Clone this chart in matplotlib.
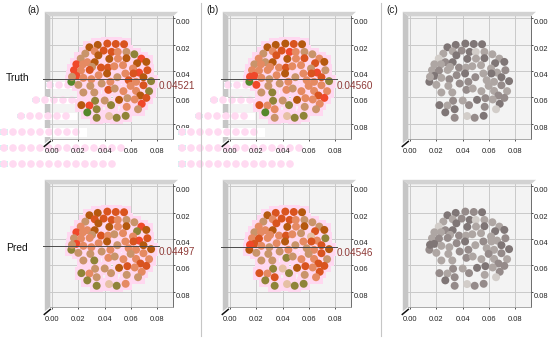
import matplotlib
matplotlib.use("Agg")
import matplotlib.pyplot as plt
from matplotlib.patches import Polygon, Rectangle
from matplotlib.transforms import Affine2D, ScaledTranslation

plt.rcParams['font.family'] = ['Liberation Sans', 'DejaVu Sans']

W, H = 550, 343
# Point positions in data units
xs = [0.0284,0.0347,0.0420,0.0484,0.0547,
      0.0324,0.0392,0.0453,0.0499,0.0565,0.0625,0.0253,0.0352,
      0.0218,0.0435,0.0501,0.0565,0.0678,0.0716,0.0646,0.0268,0.0324,
      0.0185,0.0235,0.0304,0.0372,0.0425,0.0473,0.0539,0.0615,0.0661,0.0724,
      0.0167,0.0220,0.0286,0.0185,0.0238,0.0354,0.0418,0.0496,0.0557,0.0618,0.0694,0.0147,0.0152,0.0299,
      0.0377,0.0443,0.0582,0.0638,0.0752,0.0200,0.0291,0.0597,0.0694,
      0.0238,0.0321,0.0428,0.0476,0.0542,0.0638,0.0737,0.0671,0.0716,
      0.0327,0.0400,0.0509,0.0572,0.0628,0.0681,
      0.0223,0.0284,0.0448,0.0567,0.0653,0.0339,0.0268,0.0339,0.0433,0.0491,0.0559]
ys = [0.0220,0.0202,0.0192,0.0195,0.0197,
      0.0250,0.0245,0.0255,0.0255,0.0255,0.0273,0.0268,0.0281,
      0.0306,0.0308,0.0306,0.0303,0.0306,0.0331,0.0341,0.0333,0.0333,
      0.0349,0.0349,0.0369,0.0374,0.0374,0.0364,0.0356,0.0381,0.0412,0.0394,
      0.0394,0.0397,0.0392,0.0437,0.0452,0.0432,0.0419,0.0447,0.0419,0.0419,0.0447,0.0482,0.0444,0.0462,
      0.0495,0.0482,0.0470,0.0482,0.0477,0.0505,0.0513,0.0513,0.0508,
      0.0563,0.0563,0.0543,0.0533,0.0553,0.0551,0.0553,0.0586,0.0604,
      0.0626,0.0624,0.0619,0.0606,0.0616,0.0649,
      0.0659,0.0662,0.0659,0.0672,0.0690,0.0690,0.0714,0.0755,0.0742,0.0755,0.0740]

a_truth = "DDOOO" "SOOSTGTD" "TDSDRDDSD" "RSTOOSSSRO" "RSORSSDTSODVTS" "TSOSGTTSO" "TTOTSSGDO" "GTDTSR" "DRGSTGVGPGG"
a_pred  = "DDOOO" "OOOSTTTD" "SDSDRDGSD" "RSTOSTSSRO" "TSSRSSDTSODGTS" "TSSSDTTTS" "TGSTSSSOO" "TTDOSS" "GSTTTTGGPGS"
b_truth = "DDDOD" "SORSTTTO" "SDSOSDOTD" "TSSSOSSTRT" "SSSRSSDTSOOVRT" "TSSSGRTSS" "TGSTSSSOR" "GTDSSS" "OSGTTSVTPGG"
b_pred  = "DOOOD" "SOOSTTTO" "SDSDTDOSD" "TSSSOSTPSG" "SOSOSSDTSOODRT" "TSTSDTTTO" "TTGTSSTOO" "GPDOSO" "OSGTSOGGPGG"
c_truth = "11111" "32143331" "413131121" "3332333332" "32313212311132" "223313332" "332333322" "231231" "13224112421"
c_pred  = "11221" "32143331" "413131121" "3332333332" "32213213231213" "223313322" "332333322" "231132" "23234212422"

panels_x0 = [52, 230, 410]
rows_y0 = [18.3, 186.3]
row_names = ["Truth", "Pred"]
panel_names = ["(a)", "(b)", "(c)"]
panel_series = [[a_truth, b_truth, c_truth], [a_pred, b_pred, c_pred]]
line_vals = [[0.0463, 0.0463], [0.0450, 0.0460]]
line_labels = [["0.04521", "0.04560"], ["0.04497", "0.04546"]]
tick_vals = [0.00, 0.02, 0.04, 0.06, 0.08]
tick_labels = ["0.00", "0.02", "0.04", "0.06", "0.08"]

palette = {"D": "#b5590f", "O": "#d9541f", "R": "#f0482a", "S": "#e58a62", "T": "#c9946a",
           "G": "#8f8438", "P": "#e6c0a4", "V": "#55882c",
           "1": "#7f7676", "2": "#958b8a", "3": "#aea6a3", "4": "#d2cdc9"}

# Pale smudged bands in the top row: centre, height, start, end (px from panel origin / figure top)
band_y = [85, 100, 116, 132, 148, 164]
band_h = [7, 7, 7, 9, 8, 9]
band_start = [-6, -20, -35, -52, -52, -52]
band_end = [25, 28, 25, 35, 78, 68]

fig = plt.figure(figsize=(W / 100, H / 100), dpi=100)
px = Affine2D().scale(1, -1).translate(0, H)   # figure pixels, y down
SCALE = 26.35 / 0.02

for r, Y0 in enumerate(rows_y0):
    for c, X0 in enumerate(panels_x0):
        left, right, top, bottom = X0 - 1.7, X0 + 121, Y0 - 2, Y0 + 120.6
        ax = fig.add_axes([left / W, 1 - bottom / H, (right - left) / W, (bottom - top) / H])
        ax.patch.set_alpha(0)
        ax.set_xlim(-1.7 / SCALE, 121 / SCALE)
        ax.set_ylim(120.6 / SCALE, -2 / SCALE)
        ax.add_patch(Rectangle((left, top), right - left, bottom - top, transform=px, color="#f3f3f3", lw=0, zorder=0.1))
        for s in ("left", "top"):
            ax.spines[s].set_visible(False)
        ax.spines["bottom"].set_color("#9a9a9a")
        ax.spines["right"].set_color("#555555")
        ax.spines["bottom"].set_linewidth(0.6)
        ax.spines["right"].set_linewidth(0.6)
        ax.set_axisbelow(True)
        ax.grid(True, color="#c9c9c9", linewidth=0.7)
        ax.set_xticks(tick_vals, tick_labels)
        ax.set_yticks(tick_vals, tick_labels)
        ax.yaxis.tick_right()
        ax.tick_params(axis="x", length=1.5, width=0.6, pad=5.2, labelsize=5.4, color="#333333", labelcolor="#222222")
        ax.tick_params(axis="y", length=1.5, width=0.6, pad=0.2, labelsize=5.4, color="#333333", labelcolor="#222222")
        shift = ScaledTranslation(0, -3.5 / 100, fig.dpi_scale_trans)
        for lab in ax.get_yticklabels():
            lab.set_transform(lab.get_transform() + shift)

        # box walls
        wall_top = [(left - 5.5, top - 4.5), (right + 5, top - 4.5), (right, top), (left, top)]
        wall_left = [(left - 5.5, top - 4.5), (left, top), (left, bottom), (left - 5.5, bottom + 4.5)]
        ax.add_patch(Polygon(wall_top, closed=True, transform=px, color="#d2d2d2", clip_on=False, lw=0, zorder=0.2))
        ax.add_patch(Polygon(wall_left, closed=True, transform=px, color="#c6c6c6", clip_on=False, lw=0, zorder=0.2))
        ax.plot([left - 6, left], [bottom + 7.5, bottom + 2.5], transform=px, color="#111111", lw=1.1,
                clip_on=False, zorder=1)

        # smudged bands
        if r == 0 and c < 2:
            for y, h, s, e in zip(band_y, band_h, band_start, band_end):
                ax.add_patch(Rectangle((X0 + s, y - h / 2), e - s, h, transform=px, color="white", lw=0,
                                       clip_on=False, zorder=0.3))
                n = int((e - s) / 9)
                dx = [X0 + s + 4 + 9 * i for i in range(n)]
                ax.scatter(dx, [y] * n, s=30, marker="o", color="#ffdaf1", edgecolors="none", transform=px,
                           clip_on=False, zorder=0.4)
                ax.add_patch(Rectangle((X0 + s, y - h / 2 + 1), min(8, e - s), h - 3, transform=px,
                                       color="#c8fbf3", lw=0, clip_on=False, zorder=0.35))

        codes = panel_series[r][c]
        colors = [palette[k] for k in codes]
        if c < 2:
            ax.scatter(xs, ys, s=88, marker="s", color="#ffd8f0", edgecolors="none", zorder=2, clip_on=False)
        ax.scatter(xs, ys, s=33, color=colors, edgecolors="none", zorder=3, clip_on=False)

        if c < 2:
            yl = Y0 + line_vals[r][c] * SCALE
            ax.plot([X0 - 9, X0 + 107], [yl, yl], transform=px, color="#4a4a4a", lw=0.7, clip_on=False, zorder=4)
            ax.text(X0 + 107, yl + 6.5, line_labels[r][c], transform=px, fontsize=7.2, color="#8f3b38",
                    ha="left", va="center", clip_on=False, zorder=5)

for x, name in zip([27, 206, 386], panel_names):
    fig.text(x / W, 1 - 10 / H, name, fontsize=7.2, color="#222222", ha="left", va="center")
for y, name in zip([78, 248], row_names):
    fig.text(6 / W, 1 - y / H, name, fontsize=7.4, color="#111111", ha="left", va="center")

for x in (200.5, 380.5):
    fig.add_artist(plt.Line2D([x / W, x / W], [1 - 336 / H, 1 - 3 / H], color="#c6c6c6", lw=0.8))

fig.savefig("out.png", dpi=100)
